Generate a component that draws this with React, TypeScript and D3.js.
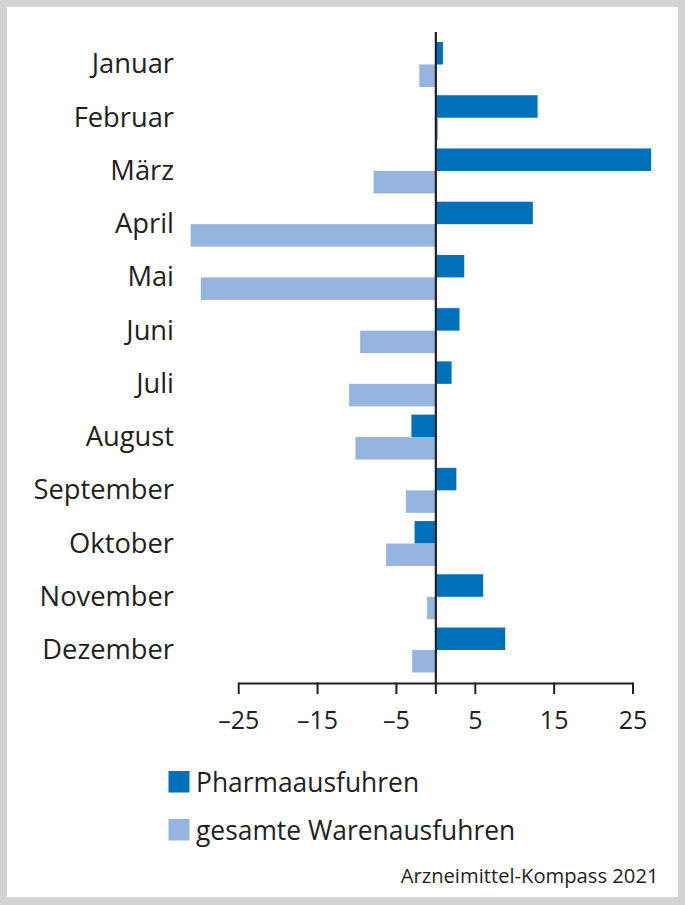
import React, { useEffect, useRef } from "react";
import * as d3 from "d3";

const WIDTH = 685;
const HEIGHT = 905;
const FONT = "'Open Sans', 'Noto Sans', sans-serif";
const TEXT_COLOR = "#231f20";
const DARK = "#0070ba";
const LIGHT = "#95b5df";

const months = [
    "Januar", "Februar", "März", "April", "Mai", "Juni",
    "Juli", "August", "September", "Oktober", "November", "Dezember",
];
const pharma = [0.9, 12.9, 27.3, 12.3, 3.6, 3.0, 2.0, -3.1, 2.6, -2.7, 6.0, 8.8];
const total = [-2.1, 0.3, -7.9, -31.1, -29.8, -9.6, -11.0, -10.2, -3.8, -6.3, -1.1, -3.0];
const tickValues = [-25, -15, -5, 0, 5, 15, 25];
const seriesNames = ["Pharmaausfuhren", "gesamte Warenausfuhren"];
const source = "Arzneimittel-Kompass 2021";

export default function App() {
    const ref = useRef<SVGSVGElement>(null);

    useEffect(() => {
        const svg = d3.select(ref.current);
        svg.selectAll("*").remove();

        // grey frame
        svg.append("rect").attr("width", WIDTH).attr("height", HEIGHT).attr("fill", "#d1d3d5");
        svg.append("rect").attr("x", 7).attr("y", 7).attr("width", WIDTH - 14).attr("height", HEIGHT - 15)
            .attr("fill", "#fff");

        const x = d3.scaleLinear().domain([-25, 25]).range([238.7, 633]);
        const y = d3.scaleBand<string>().domain(months).range([42, 672.5]).paddingInner(0.155);
        const sub = d3.scaleBand<number>().domain([0, 1]).range([0, y.bandwidth()]);
        const axisY = 683.5;

        const series = [pharma, total];
        const colors = [DARK, LIGHT];

        series.forEach((vals, si) => {
            svg.append("g")
                .selectAll("rect")
                .data(vals)
                .enter()
                .append("rect")
                .attr("x", d => x(Math.min(0, d)))
                .attr("y", (d, i) => (y(months[i]) as number) + (sub(si) as number))
                .attr("width", d => Math.abs(x(d) - x(0)))
                .attr("height", sub.bandwidth())
                .attr("fill", colors[si]);
        });

        // month labels
        svg.append("g")
            .selectAll("text")
            .data(months)
            .enter()
            .append("text")
            .attr("x", 174)
            .attr("y", d => (y(d) as number) + y.bandwidth() / 2)
            .attr("dy", "0.33em")
            .attr("text-anchor", "end")
            .attr("font-family", FONT)
            .attr("font-size", 27.3)
            .attr("fill", TEXT_COLOR)
            .text(d => d);

        // zero line
        svg.append("line")
            .attr("x1", x(0)).attr("x2", x(0))
            .attr("y1", 32).attr("y2", axisY)
            .attr("stroke", TEXT_COLOR).attr("stroke-width", 2.2);

        // x axis
        const axis = svg.append("g").attr("transform", `translate(0,${axisY})`);
        axis.append("line")
            .attr("x1", x(-25)).attr("x2", x(25))
            .attr("stroke", TEXT_COLOR).attr("stroke-width", 2);
        const ticks = axis.selectAll("g.tick").data(tickValues).enter().append("g")
            .attr("transform", d => `translate(${x(d)},0)`);
        ticks.append("line").attr("y1", -1).attr("y2", 10.5)
            .attr("stroke", TEXT_COLOR).attr("stroke-width", 2);
        ticks.filter(d => d !== 0).append("text")
            .attr("y", 45.5)
            .attr("text-anchor", "middle")
            .attr("font-family", FONT)
            .attr("font-size", 25)
            .attr("fill", TEXT_COLOR)
            .text(d => (d < 0 ? "\u2013" + Math.abs(d) : String(d)));

        // legend
        const legend = svg.append("g");
        seriesNames.forEach((name, i) => {
            const ly = 771 + i * 48;
            legend.append("rect").attr("x", 168.5).attr("y", ly).attr("width", 21).attr("height", 21.5)
                .attr("fill", colors[i]);
            legend.append("text")
                .attr("x", 196).attr("y", ly + 21)
                .attr("font-family", FONT)
                .attr("font-size", 26.4)
                .attr("fill", TEXT_COLOR)
                .text(name);
        });

        svg.append("text")
            .attr("x", 658.5).attr("y", 883)
            .attr("text-anchor", "end")
            .attr("font-family", FONT)
            .attr("font-size", 20.2)
            .attr("fill", TEXT_COLOR)
            .text(source);
    }, []);

    return (
        <svg ref={ref} width={WIDTH} height={HEIGHT}
             style={{ position: "absolute", left: 0, top: 0, display: "block" }} />
    );
}
